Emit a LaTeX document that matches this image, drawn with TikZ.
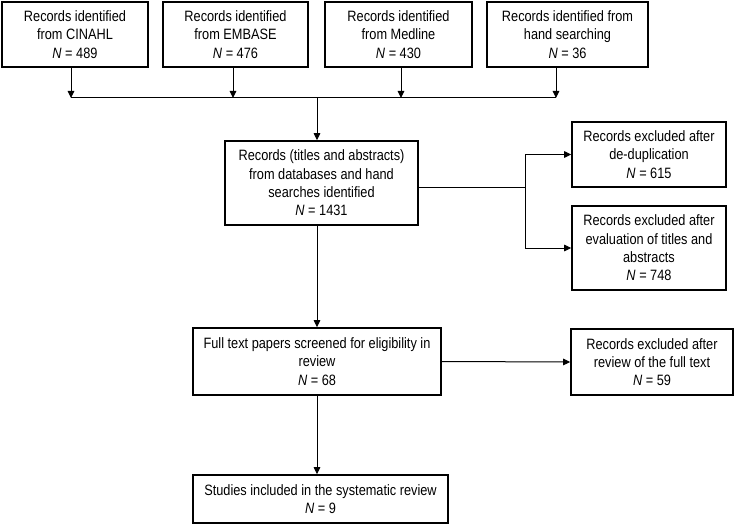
\documentclass[tikz,border=0pt]{standalone}
\usepackage{fontspec}
\setmainfont{Liberation Sans}[FakeStretch=0.85]
\usepackage{tikz}
\usetikzlibrary{arrows,arrows.meta,shapes,positioning}

\tikzset{
  box/.style={draw, line width=1.6pt, align=center, inner sep=0pt,
    font=\fontsize{15}{18.3}\selectfont},
  link/.style={line width=1pt},
  arr/.style={link, -{Triangle[length=7pt,width=6.5pt]}}
}

\begin{document}
\begin{tikzpicture}[x=1pt, y=-1pt]
      \useasboundingbox (0,0) rectangle (736,524);
      % sources
      \node[box, minimum width=146pt, minimum height=65pt] (cinahl) at (75,34.5)
        {Records identified\\from CINAHL\\\textit{N} = 489};
      \node[box, minimum width=145pt, minimum height=65pt] (embase) at (235.5,34.5)
        {Records identified\\from EMBASE\\\textit{N} = 476};
      \node[box, minimum width=147pt, minimum height=65pt] (medline) at (398.5,34.5)
        {Records identified\\from Medline\\\textit{N} = 430};
      \node[box, minimum width=161pt, minimum height=65pt] (hand) at (567.5,34.5)
        {Records identified from\\hand searching\\\textit{N} = 36};
      % screening
      \node[box, minimum width=193pt, minimum height=84pt] (records) at (321.5,183)
        {Records (titles and abstracts)\\from databases and hand\\searches identified\\\textit{N} = 1431};
      \node[box, minimum width=154pt, minimum height=65pt] (dedup) at (649,154.5)
        {Records excluded after\\de-duplication\\\textit{N} = 615};
      \node[box, minimum width=154pt, minimum height=84pt] (titles) at (649,248)
        {Records excluded after\\evaluation of titles and\\abstracts\\\textit{N} = 748};
      \node[box, minimum width=248pt, minimum height=67pt] (fulltext) at (317,361.5)
        {Full text papers screened for eligibility in\\review\\\textit{N} = 68};
      \node[box, minimum width=162pt, minimum height=66pt] (excluded) at (652,362)
        {Records excluded after\\review of the full text\\\textit{N} = 59};
      \node[box, minimum width=255pt, minimum height=48pt] (included) at (320.5,499)
        {Studies included in the systematic review\\\textit{N} = 9};
      % bus under the sources
      \coordinate (bus1) at (71,98);
      \coordinate (bus2) at (233,98);
      \coordinate (bus3) at (401,98);
      \coordinate (bus4) at (556,98);
      \coordinate (busm) at (317,98);
      \coordinate (split) at (525,187);
      \draw[arr] (cinahl.south -| bus1) -- (bus1);
      \draw[arr] (embase.south -| bus2) -- (bus2);
      \draw[arr] (medline.south -| bus3) -- (bus3);
      \draw[arr] (hand.south -| bus4) -- (bus4);
      \draw[link] (bus1) -- (bus4);
      \draw[arr] (busm) -- (records.north -| busm);
      % exclusions
      \draw[link] (records.east |- split) -- (split);
      \draw[arr] (split) |- (dedup.west);
      \draw[arr] (split) |- (titles.west);
      \draw[arr] (records.south -| busm) -- (fulltext.north -| busm);
      \draw[arr] (fulltext.east) -- (excluded.west);
      \draw[arr] (fulltext.south) -- (included.north -| fulltext.south);
\end{tikzpicture}
\end{document}
